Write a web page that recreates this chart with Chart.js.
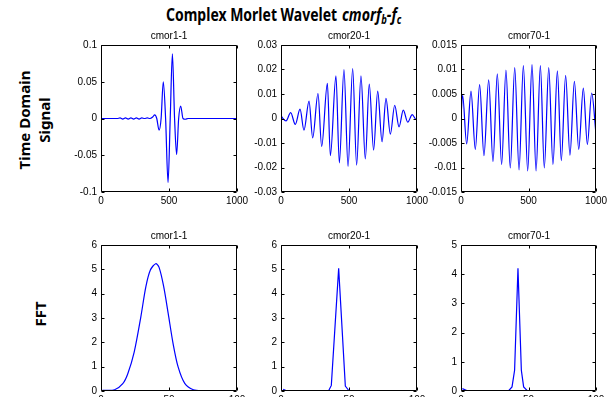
<!DOCTYPE html>
<html>
<head>
<meta charset="utf-8">
<script src="https://cdn.jsdelivr.net/npm/chart.js@4.4.1/dist/chart.umd.min.js"></script>
<style>
  html, body { margin: 0; padding: 0; width: 614px; height: 397px; overflow: hidden; background: #fff; }
  .cv { position: absolute; }
  .sub { position: absolute; font: 10px "Liberation Sans", Arial, sans-serif; color: #000; text-align: center; width: 136px; }
  .rowlab { position: absolute; font: bold 15px "Noto Sans", sans-serif; text-align: center; line-height: 20px; width: 160px;
            transform: translate(-50%, -50%) rotate(-90deg); }
  .ttl { position: absolute; top: 2px; font: bold 18px "Noto Sans", sans-serif; white-space: nowrap; transform-origin: 0 0; }
  .ttl sub { font-size: 12px; vertical-align: -3px; }
</style>
</head>
<body>
<div class="ttl" id="t1" style="left:166px;">Complex Morlet Wavelet</div>
<div class="ttl" id="t2" style="left:342px;"><i>cmorf<sub>b</sub>-f<sub>c</sub></i></div>
<div class="rowlab" style="left:34px; top:120px;">Time Domain<br>Signal</div>
<div class="rowlab" style="left:40px; top:314px;">FFT</div>

<script>
// wavelet names
const names = ["cmor1-1", "cmor20-1", "cmor70-1"];

// time domain signal (peaks / troughs)
const t1x = [0, 120, 140, 160, 180, 200, 220, 240, 260, 280, 300, 320, 340, 360, 380, 395, 410, 427, 442, 458, 475, 493, 509, 525, 541, 556, 571, 586, 603, 620, 640, 1000];
const t1y = [0, 0, 0.0008, -0.0008, 0.0008, -0.0008, 0.0008, -0.0008, 0.0008, -0.0008, 0.0008, 0, 0.0008, 0, 0.002, 0.005, 0, -0.016, 0, 0.05, 0, -0.087, 0, 0.088, 0, -0.049, 0, 0.017, 0, -0.001, 0, 0];

const t2x = [0, 37, 71, 105, 140, 169, 206, 233, 272, 299, 341, 363, 404, 429, 463, 493, 527, 556, 588, 620, 649, 681, 711, 743, 772, 804, 836, 868, 899, 932, 965, 993, 1000];
const t2y = [0.001, -0.001, 0.0024, -0.0024, 0.0038, -0.0048, 0.0071, -0.0079, 0.0102, -0.0114, 0.0143, -0.0152, 0.0174, -0.0181, 0.02, -0.0196, 0.0204, -0.019, 0.0174, -0.0165, 0.014, -0.0129, 0.0112, -0.0095, 0.0082, -0.0064, 0.0054, -0.0034, 0.0034, -0.0015, 0.0016, -0.0004, -0.0003];

const t3x = [0, 12, 42, 74, 106, 138, 170, 205, 237, 269, 301, 333, 365, 398, 430, 462, 494, 526, 556, 588, 617, 650, 681, 714, 743, 775, 807, 840, 872, 906, 936, 968, 1000];
const t3y = [0.0005, 0.0047, -0.0052, 0.0056, -0.0063, 0.0069, -0.0076, 0.0079, -0.0088, 0.0091, -0.0094, 0.0099, -0.0101, 0.0104, -0.0105, 0.0108, -0.0107, 0.011, -0.0107, 0.0108, -0.0101, 0.0104, -0.0094, 0.0097, -0.0086, 0.0088, -0.0075, 0.0076, -0.0063, 0.0062, -0.0053, 0.0052, -0.0032];

// FFT magnitude
const f1x = [1, 10, 16, 19.7, 24.4, 29.3, 33, 36.3, 40.2, 42.7, 46.1, 49.4, 53, 56.7, 61.7, 67.9, 75, 85];
const f1y = [0.03, 0.05, 0.3, 0.71, 1.6, 3.05, 4.29, 4.97, 5.23, 5.08, 4.29, 3.19, 1.95, 0.99, 0.3, 0.05, 0.01, 0.01];

const f2x = [1.6, 4, 35, 37, 42.4, 47.3, 49.7, 85];
const f2y = [0.07, 0.01, 0.01, 0.23, 5.04, 0.2, 0.03, 0.01];

const f3x = [1, 4.7, 35.3, 37.8, 39.7, 42.2, 44.7, 46.4, 48.9, 85];
const f3y = [0.08, 0.01, 0.01, 0.14, 0.71, 4.2, 0.71, 0.14, 0.02, 0.01];

// tick labels
const tdXTicks = [0, 500, 1000];
const fftXTicks = [0, 50, 100];
const tdYTicks = [
  [-0.1, -0.05, 0, 0.05, 0.1],
  [-0.03, -0.02, -0.01, 0, 0.01, 0.02, 0.03],
  [-0.015, -0.01, -0.005, 0, 0.005, 0.01, 0.015]
];
const fftYTicks = [
  [0, 1, 2, 3, 4, 5, 6],
  [0, 1, 2, 3, 4, 5, 6],
  [0, 1, 2, 3, 4, 5]
];

// plot boxes (left, right) and rows (top, bottom)
const cols = [[101, 237], [281, 417], [461, 596]];
const rows = [[45, 192], [245, 391]];
const YW = 50, XH = 22, PT = 10, PR = 18;

// MATLAB style frame with inward ticks
const boxPlugin = {
  id: "box",
  afterDraw(chart) {
    const ctx = chart.ctx, a = chart.chartArea;
    const xs = chart.scales.x, ys = chart.scales.y;
    const L = Math.round(a.left) + 0.5, R = Math.round(a.right) - 0.5;
    const T = Math.round(a.top) + 0.5, B = Math.round(a.bottom) - 0.5;
    ctx.save();
    ctx.strokeStyle = "#000";
    ctx.lineWidth = 1;
    ctx.beginPath();
    ctx.rect(L, T, R - L, B - T);
    xs.ticks.forEach(t => {
      const px = Math.round(xs.getPixelForValue(t.value)) + 0.5;
      ctx.moveTo(px, B); ctx.lineTo(px, B - 3);
      ctx.moveTo(px, T); ctx.lineTo(px, T + 3);
    });
    ys.ticks.forEach(t => {
      const py = Math.round(ys.getPixelForValue(t.value)) + 0.5;
      ctx.moveTo(L, py); ctx.lineTo(L + 3, py);
      ctx.moveTo(R, py); ctx.lineTo(R - 3, py);
    });
    ctx.stroke();
    ctx.restore();
  }
};

function makePlot(col, row, xs, ys, xTicks, yTicks, smooth) {
  const left = cols[col][0], right = cols[col][1];
  const top = rows[row][0], bottom = rows[row][1];
  const cv = document.createElement("canvas");
  cv.className = "cv";
  const w = right - left + YW + PR, h = bottom - top + PT + XH;
  cv.width = w; cv.height = h;
  cv.style.left = (left - YW) + "px";
  cv.style.top = (top - PT) + "px";
  cv.style.width = w + "px"; cv.style.height = h + "px";
  document.body.appendChild(cv);

  const sub = document.createElement("div");
  sub.className = "sub";
  sub.textContent = names[col];
  sub.style.left = left + "px";
  sub.style.top = (top - 15) + "px";
  document.body.appendChild(sub);

  const tickFont = { family: "'Liberation Sans', Arial, sans-serif", size: 10 };
  new Chart(cv.getContext("2d"), {
    type: "line",
    data: {
      datasets: [{
        data: xs.map((x, i) => ({ x: x, y: ys[i] })),
        borderColor: "#0000ff",
        borderWidth: 1.2,
        pointRadius: 0,
        cubicInterpolationMode: smooth === "mono" ? "monotone" : "default",
        tension: smooth === "soft" ? 0.3 : 0
      }]
    },
    options: {
      responsive: false,
      animation: false,
      layout: { padding: { top: PT, right: PR, left: 0, bottom: 0 } },
      plugins: { legend: { display: false }, tooltip: { enabled: false } },
      scales: {
        x: {
          type: "linear",
          min: xTicks[0], max: xTicks[xTicks.length - 1],
          afterBuildTicks: s => { s.ticks = xTicks.map(v => ({ value: v })); },
          afterFit: s => { s.height = XH; },
          grid: { display: false, drawTicks: false },
          border: { display: false },
          ticks: { padding: 3, color: "#000", font: tickFont, maxRotation: 0, autoSkip: false, callback: v => String(v) }
        },
        y: {
          min: yTicks[0], max: yTicks[yTicks.length - 1],
          afterBuildTicks: s => { s.ticks = yTicks.map(v => ({ value: v })); },
          afterFit: s => { s.width = YW; },
          grid: { display: false, drawTicks: false },
          border: { display: false },
          ticks: { padding: 4, color: "#000", font: tickFont, autoSkip: false, callback: v => String(v) }
        }
      }
    },
    plugins: [boxPlugin]
  });
}

makePlot(0, 0, t1x, t1y, tdXTicks, tdYTicks[0], "mono");
makePlot(1, 0, t2x, t2y, tdXTicks, tdYTicks[1], "mono");
makePlot(2, 0, t3x, t3y, tdXTicks, tdYTicks[2], "mono");
makePlot(0, 1, f1x, f1y, fftXTicks, fftYTicks[0], "soft");
makePlot(1, 1, f2x, f2y, fftXTicks, fftYTicks[1], "none");
makePlot(2, 1, f3x, f3y, fftXTicks, fftYTicks[2], "none");

// squeeze the title parts to the reference widths
function fit(id, width) {
  const el = document.getElementById(id);
  el.style.transform = "scaleX(" + (width / el.offsetWidth) + ")";
}
fit("t1", 171);
fit("t2", 59);
</script>
</body>
</html>
